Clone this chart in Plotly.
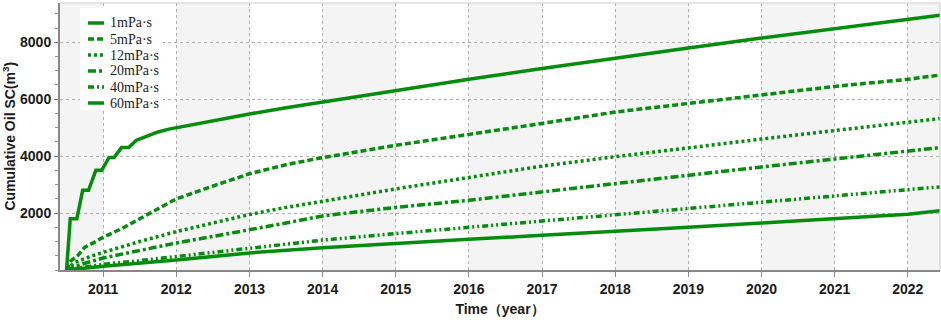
import plotly.graph_objects as go

# ---- data ----
names = ["1mPa·s", "5mPa·s", "12mPa·s", "20mPa·s", "40mPa·s", "60mPa·s"]

t_1 = [2010.50, 2010.55, 2010.64, 2010.72, 2010.80, 2010.90, 2010.98, 2011.08, 2011.15,
       2011.25, 2011.35, 2011.45, 2011.60, 2011.75, 2011.90, 2012.0, 2012.5, 2013.0,
       2013.5, 2014, 2015, 2016, 2017, 2018, 2019, 2020, 2021, 2022, 2022.44]
v_1 = [0, 1800, 1800, 2800, 2800, 3500, 3500, 3950, 3950,
       4300, 4300, 4550, 4700, 4850, 4950, 5000, 5250, 5480,
       5700, 5900, 6320, 6700, 7080, 7450, 7800, 8150, 8480, 8790, 8950]

t_5 = [2010.50, 2010.55, 2010.65, 2010.75, 2010.90, 2011.0, 2011.25, 2011.5, 2011.75,
       2012.0, 2012.5, 2013.0, 2013.5, 2014, 2015, 2016, 2017, 2018, 2019, 2020,
       2021, 2022, 2022.44]
v_5 = [0, 300, 500, 800, 1000, 1150, 1450, 1800, 2150,
       2500, 2950, 3380, 3700, 3950, 4380, 4750, 5150, 5550, 5850, 6150,
       6450, 6700, 6850]

t_12 = [2010.50, 2010.60, 2010.80, 2011.0, 2011.5, 2012.0, 2012.5, 2013.0, 2013.5,
        2014, 2015, 2016, 2017, 2018, 2019, 2020, 2021, 2022, 2022.44]
v_12 = [0, 250, 450, 620, 1000, 1350, 1650, 1950, 2200,
        2420, 2850, 3250, 3650, 3980, 4300, 4600, 4900, 5180, 5320]

t_20 = [2010.50, 2010.70, 2011.0, 2011.5, 2012.0, 2012.5, 2013.0, 2013.5, 2014,
        2015, 2016, 2017, 2018, 2019, 2020, 2021, 2022, 2022.44]
v_20 = [0, 200, 420, 700, 950, 1180, 1400, 1650, 1900,
        2200, 2450, 2750, 3050, 3350, 3620, 3900, 4180, 4300]

t_40 = [2010.50, 2011.0, 2011.5, 2012.0, 2013, 2014, 2015, 2016, 2017, 2018,
        2019, 2020, 2021, 2022, 2022.44]
v_40 = [0, 200, 330, 470, 770, 1050, 1280, 1500, 1720, 1930,
        2150, 2380, 2600, 2820, 2920]

t_60 = [2010.50, 2011.0, 2012.0, 2013, 2014, 2015, 2016, 2017, 2018, 2019,
        2020, 2021, 2022, 2022.44]
v_60 = [0, 130, 350, 600, 780, 940, 1080, 1220, 1350, 1500,
        1650, 1800, 1960, 2080]

years = list(range(2011, 2023))
y_ticks = [2000, 4000, 6000, 8000]
x_title = "Time（year）"
y_title = "Cumulative Oil SC(m<sup>3</sup>)"

series_t = [t_1, t_5, t_12, t_20, t_40, t_60]
series_v = [v_1, v_5, v_12, v_20, v_40, v_60]

# ---- styling ----
GREEN = "#048c0c"
LW = 3.5
dashes = ["solid", "6px,3px", "3px,3px", "8px,3px,3px,3px",
          "6px,3px,2px,3px,2px,3px", "solid"]

X0, X1 = 2010.41, 2022.44
Y1 = 9380
W, H = 941, 324
ML, MR, MT, MB = 60, 1, 3, 54
PW, PH = W - ML - MR, H - MT - MB

def px_x(p):  # pixel -> paper x
    return (p - ML) / PW

def px_y(p):  # pixel -> paper y
    return 1 - (p - MT) / PH

fig = go.Figure()
for nm, tt, vv, ds in zip(names, series_t, series_v, dashes):
    fig.add_trace(go.Scatter(x=tt, y=vv, mode="lines", name=nm, showlegend=False,
                             line=dict(color=GREEN, width=LW, dash=ds)))

# alternating background bands
band_edges = [X0] + years + [X1]
shapes = []
for i in range(len(band_edges) - 1):
    if i % 2 == 0:
        shapes.append(dict(type="rect", xref="x", yref="paper",
                           x0=band_edges[i], x1=band_edges[i + 1], y0=0, y1=1,
                           fillcolor="#f4f4f4", line=dict(width=0), layer="below"))
# top / right frame
shapes.append(dict(type="line", xref="paper", yref="paper", x0=0, x1=1, y0=1, y1=1,
                   line=dict(color="#cccccc", width=1)))
shapes.append(dict(type="line", xref="paper", yref="paper", x0=1, x1=1, y0=0, y1=1,
                   line=dict(color="#cccccc", width=1)))

tick_font = dict(family="Liberation Sans, Arial", size=14, color="#1a1a1a", weight="bold")

# custom legend (compact, like the reference)
shapes.append(dict(type="rect", xref="paper", yref="paper",
                   x0=px_x(80), x1=px_x(163), y0=px_y(110), y1=px_y(8),
                   fillcolor="white", line=dict(width=0)))
annotations = []
for i, (nm, ds) in enumerate(zip(names, dashes)):
    yy = px_y(23 + 16 * i)
    shapes.append(dict(type="line", xref="paper", yref="paper",
                       x0=px_x(88), x1=px_x(104), y0=yy, y1=yy,
                       line=dict(color=GREEN, width=LW, dash=ds)))
    annotations.append(dict(xref="paper", yref="paper", x=px_x(108), y=yy,
                            xanchor="left", yanchor="middle", showarrow=False,
                            text=nm, font=dict(family="Liberation Serif, Times New Roman",
                                               size=14, color="#222")))

# y-axis title as rotated annotation (positioned like the reference)
annotations.append(dict(xref="paper", yref="paper", x=px_x(9), y=0.5,
                        xanchor="center", yanchor="middle", showarrow=False,
                        textangle=-90, text=y_title, font=tick_font))

fig.update_layout(
    width=W, height=H,
    margin=dict(l=ML, r=MR, t=MT, b=MB),
    paper_bgcolor="white", plot_bgcolor="white",
    shapes=shapes, annotations=annotations,
    showlegend=False,
    xaxis=dict(range=[X0, X1], tickvals=years, ticktext=[str(y) for y in years],
               showgrid=True, gridcolor="#b0b0b0", griddash="dot", gridwidth=1,
               showline=True, linecolor="#888", linewidth=2, mirror=False,
               ticks="outside", ticklen=5, tickcolor="#888",
               tickfont=tick_font, zeroline=False, automargin=False,
               title=dict(text=x_title, font=tick_font, standoff=8)),
    yaxis=dict(range=[0, Y1], tickvals=y_ticks, ticktext=[str(v) for v in y_ticks],
               showgrid=True, gridcolor="#b0b0b0", griddash="dot", gridwidth=1,
               showline=True, linecolor="#888", linewidth=2,
               ticks="outside", ticklen=4, tickcolor="#888",
               minor=dict(dtick=500, ticks="outside", ticklen=3, tickcolor="#999", showgrid=False),
               tickfont=tick_font, zeroline=False, automargin=False),
)

fig.write_html("out.html", config={"displayModeBar": False},
               post_script="document.body.style.margin='0';document.body.style.padding='0';")
